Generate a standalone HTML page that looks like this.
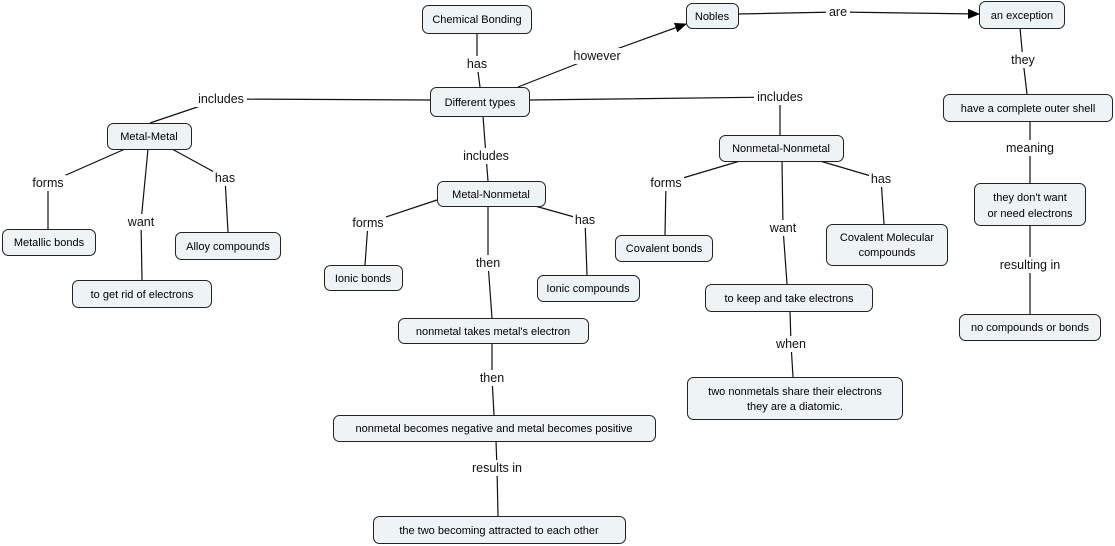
<!DOCTYPE html>
<html><head><meta charset="utf-8"><style>
html,body{margin:0;padding:0;background:#fff;width:1115px;height:546px;overflow:hidden}
svg text{font-family:"Liberation Sans",sans-serif}
.n rect{fill:#eef3f6;stroke:#222;stroke-width:1}
.n text{font-size:11px;fill:#000;text-anchor:middle}
.l{font-size:12.5px;fill:#111;text-anchor:middle}
.lb{fill:#fff}
line,polyline{stroke:#111;stroke-width:1.2;fill:none}
</style></head><body>
<svg width="1115" height="546" xmlns="http://www.w3.org/2000/svg">
<defs><marker id="a" markerWidth="12" markerHeight="10" refX="11" refY="5" orient="auto" markerUnits="userSpaceOnUse"><path d="M0,0 L12,5 L0,10 z" fill="#000"/></marker></defs>
<g>
<polyline points="477,33 477,64 480,87"/>
<polyline points="518,87 597,56 686,24" marker-end="url(#a)"/>
<polyline points="738,14 838,12 979,14" marker-end="url(#a)"/>
<polyline points="1020,28 1023,60 1027,94"/>
<polyline points="430,100 221,99 150,123"/>
<polyline points="529,100 780,97 780,135"/>
<polyline points="483,116 486,156 488,181"/>
<polyline points="1030,121 1030,148 1030,183"/>
<polyline points="125,149 48,183 48,229"/>
<polyline points="148,149 141,222 142,280"/>
<polyline points="172,149 225,178 228,232"/>
<polyline points="437,200 368,223 365,265"/>
<polyline points="488,206 488,263 492,318"/>
<polyline points="535,206 585,220 587,275"/>
<polyline points="740,161 666,183 665,235"/>
<polyline points="782,161 783,228 787,284"/>
<polyline points="820,161 881,179 884,224"/>
<polyline points="1030,225 1030,265 1030,314"/>
<polyline points="492,343 492,378 494,415"/>
<polyline points="790,311 791,344 793,377"/>
<polyline points="496,441 497,468 498,516"/>
</g>
<g>
<rect class="lb" x="465" y="56" width="24" height="16"/><text class="l" x="477" y="68">has</text>
<rect class="lb" x="570" y="48" width="54" height="16"/><text class="l" x="597" y="60">however</text>
<rect class="lb" x="826" y="4" width="24" height="16"/><text class="l" x="838" y="16">are</text>
<rect class="lb" x="1009" y="52" width="28" height="16"/><text class="l" x="1023" y="64">they</text>
<rect class="lb" x="195" y="91" width="52" height="16"/><text class="l" x="221" y="103">includes</text>
<rect class="lb" x="754" y="89" width="52" height="16"/><text class="l" x="780" y="101">includes</text>
<rect class="lb" x="460" y="148" width="52" height="16"/><text class="l" x="486" y="160">includes</text>
<rect class="lb" x="1004" y="140" width="52" height="16"/><text class="l" x="1030" y="152">meaning</text>
<rect class="lb" x="30" y="175" width="36" height="16"/><text class="l" x="48" y="187">forms</text>
<rect class="lb" x="125" y="214" width="32" height="16"/><text class="l" x="141" y="226">want</text>
<rect class="lb" x="213" y="170" width="24" height="16"/><text class="l" x="225" y="182">has</text>
<rect class="lb" x="350" y="215" width="36" height="16"/><text class="l" x="368" y="227">forms</text>
<rect class="lb" x="474" y="255" width="28" height="16"/><text class="l" x="488" y="267">then</text>
<rect class="lb" x="573" y="212" width="24" height="16"/><text class="l" x="585" y="224">has</text>
<rect class="lb" x="648" y="175" width="36" height="16"/><text class="l" x="666" y="187">forms</text>
<rect class="lb" x="767" y="220" width="32" height="16"/><text class="l" x="783" y="232">want</text>
<rect class="lb" x="869" y="171" width="24" height="16"/><text class="l" x="881" y="183">has</text>
<rect class="lb" x="994" y="257" width="72" height="16"/><text class="l" x="1030" y="269">resulting in</text>
<rect class="lb" x="478" y="370" width="28" height="16"/><text class="l" x="492" y="382">then</text>
<rect class="lb" x="775" y="336" width="32" height="16"/><text class="l" x="791" y="348">when</text>
<rect class="lb" x="467" y="460" width="60" height="16"/><text class="l" x="497" y="472">results in</text>
</g>
<g class="n">
<rect x="422.5" y="5.5" width="109" height="28" rx="6"/><text x="477" y="23">Chemical Bonding</text>
<rect x="686.5" y="3.5" width="52" height="25" rx="6"/><text x="712" y="20">Nobles</text>
<rect x="979.5" y="1.5" width="85" height="27" rx="6"/><text x="1022" y="19">an exception</text>
<rect x="430.5" y="87.5" width="99" height="29" rx="6"/><text x="480" y="106">Different types</text>
<rect x="943.5" y="94.5" width="169" height="27" rx="6"/><text x="1028" y="112">have a complete outer shell</text>
<rect x="107.5" y="123.5" width="84" height="26" rx="6"/><text x="149" y="140">Metal-Metal</text>
<rect x="719.5" y="135.5" width="124" height="26" rx="6"/><text x="781" y="152">Nonmetal-Nonmetal</text>
<rect x="437.5" y="181.5" width="108" height="25" rx="6"/><text x="491" y="198">Metal-Nonmetal</text>
<rect x="974.5" y="183.5" width="111" height="42" rx="6"/><text x="1030" y="201">they don't want</text><text x="1030" y="217">or need electrons</text>
<rect x="2.5" y="229.5" width="93" height="26" rx="6"/><text x="49" y="246">Metallic bonds</text>
<rect x="175.5" y="232.5" width="105" height="27" rx="6"/><text x="228" y="250">Alloy compounds</text>
<rect x="615.5" y="235.5" width="97" height="26" rx="6"/><text x="664" y="252">Covalent bonds</text>
<rect x="826.5" y="224.5" width="121" height="41" rx="6"/><text x="887" y="241">Covalent Molecular</text><text x="887" y="256">compounds</text>
<rect x="324.5" y="265.5" width="78" height="25" rx="6"/><text x="363" y="282">Ionic bonds</text>
<rect x="537.5" y="275.5" width="102" height="26" rx="6"/><text x="588" y="292">Ionic compounds</text>
<rect x="72.5" y="280.5" width="139" height="27" rx="6"/><text x="142" y="298">to get rid of electrons</text>
<rect x="705.5" y="284.5" width="167" height="27" rx="6"/><text x="789" y="302">to keep and take electrons</text>
<rect x="959.5" y="314.5" width="141" height="26" rx="6"/><text x="1030" y="331">no compounds or bonds</text>
<rect x="398.5" y="318.5" width="190" height="25" rx="6"/><text x="493" y="335">nonmetal takes metal's electron</text>
<rect x="687.5" y="377.5" width="215" height="42" rx="6"/><text x="795" y="395">two nonmetals share their electrons</text><text x="795" y="410">they are a diatomic.</text>
<rect x="333.5" y="415.5" width="322" height="26" rx="6"/><text x="494" y="432">nonmetal becomes negative and metal becomes positive</text>
<rect x="373.5" y="516.5" width="252" height="27" rx="6"/><text x="499" y="534">the two becoming attracted to each other</text>
</g>
</svg>
</body></html>
